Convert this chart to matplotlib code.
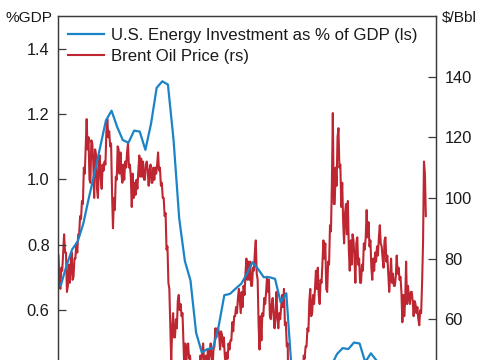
import numpy as np
import matplotlib
matplotlib.use("Agg")
import matplotlib.pyplot as plt

plt.rcParams['font.family'] = ['Liberation Sans', 'DejaVu Sans']

# ---------------- data ----------------
# U.S. energy investment, % of GDP, quarterly 2010Q1 .. 2025Q4
invest_start = 2010
invest_pct = [
    0.675, 0.735, 0.785, 0.81,   # 2010
    0.865, 0.945, 1.02, 1.10,    # 2011
    1.18, 1.21, 1.16, 1.12,      # 2012
    1.112, 1.149, 1.146, 1.09,   # 2013
    1.17, 1.28, 1.30, 1.29,      # 2014
    1.12, 0.88, 0.75, 0.69,      # 2015
    0.53, 0.47, 0.48, 0.483,     # 2016
    0.55, 0.645, 0.649, 0.665,   # 2017
    0.68, 0.71, 0.746, 0.725,    # 2018
    0.70, 0.70, 0.695, 0.623,    # 2019
    0.651, 0.40, 0.36, 0.36,     # 2020
    0.37, 0.39, 0.40, 0.42,      # 2021
    0.43, 0.465, 0.483, 0.48,    # 2022
    0.50, 0.497, 0.44, 0.467,    # 2023
    0.445, 0.43, 0.42, 0.42,     # 2024
    0.43, 0.42, 0.41, 0.41,      # 2025
]

# Brent oil price, $/bbl: monthly high and low, Jan 2010 .. Apr 2026
brent_high = [
    81, 77, 82, 88, 82, 78, 78, 82, 80, 85, 88, 94,            # 2010
    99, 110, 117, 126, 120, 119, 118, 116, 114, 112, 114, 111, # 2011
    112, 122, 126, 122, 118, 100, 107, 117, 116, 115, 111, 112, # 2012
    115, 118, 111, 108, 105, 106, 109, 114, 113, 112, 111, 112, # 2013
    109, 111, 110, 110, 111, 115, 110, 105, 100, 95, 84, 70,   # 2014
    57, 62, 60, 66, 68, 65, 62, 52, 50, 52, 48, 43,            # 2015
    37, 36, 41, 48, 50, 52, 48, 50, 49, 52, 50, 57,            # 2016
    57, 57, 56, 55, 54, 49, 52, 53, 59, 61, 64, 67,            # 2017
    70, 69, 71, 75, 80, 79, 79, 77, 82, 86, 73, 61,            # 2018
    62, 67, 69, 74, 73, 65, 67, 62, 69, 62, 64, 68,            # 2019
    70, 59, 52, 30, 36, 43, 44, 46, 45, 43, 48, 51,            # 2020
    57, 66, 70, 68, 70, 76, 77, 73, 79, 86, 85, 79,            # 2021
    91, 105, 128, 110, 120, 123, 111, 105, 95, 98, 99, 86,     # 2022
    88, 86, 85, 87, 80, 78, 85, 87, 96, 92, 86, 80,            # 2023
    82, 84, 87, 91, 84, 86, 87, 81, 74, 80, 75, 74,            # 2024
    81, 77, 74, 68, 66, 79, 71, 69, 69, 66, 65, 64,            # 2025
    63, 72, 112, 108,                                           # 2026
]
brent_low = [
    72, 70, 76, 82, 69, 71, 72, 73, 74, 80, 82, 88,            # 2010
    93, 98, 108, 116, 106, 105, 112, 100, 103, 100, 106, 103,  # 2011
    109, 111, 120, 117, 102, 90, 96, 106, 108, 108, 105, 106,  # 2012
    110, 110, 107, 97, 100, 101, 103, 107, 107, 106, 106, 109, # 2013
    104, 105, 105, 106, 108, 109, 104, 100, 94, 83, 72, 58,    # 2014
    46, 54, 54, 57, 63, 61, 52, 43, 46, 47, 43, 36,            # 2015
    28, 30, 36, 38, 45, 46, 42, 43, 45, 48, 44, 51,            # 2016
    54, 55, 50, 51, 48, 45, 47, 50, 53, 56, 61, 62,            # 2017
    66, 62, 64, 68, 73, 73, 71, 71, 76, 75, 58, 50,            # 2018
    53, 61, 65, 69, 61, 60, 61, 57, 60, 57, 60, 64,            # 2019
    58, 51, 23, 19, 27, 37, 42, 43, 39, 37, 38, 47,            # 2020
    51, 56, 61, 62, 65, 70, 68, 65, 72, 80, 70, 69,            # 2021
    78, 89, 98, 98, 104, 110, 97, 92, 85, 88, 83, 76,          # 2022
    78, 80, 72, 78, 72, 72, 76, 83, 87, 84, 77, 73,            # 2023
    76, 79, 81, 85, 80, 77, 79, 75, 69, 72, 71, 71,            # 2024
    75, 73, 69, 59, 61, 65, 67, 65, 66, 61, 62, 60,            # 2025
    58, 62, 85, 94,                                             # 2026
]

left_ticks = [0.6, 0.8, 1.0, 1.2, 1.4]
left_labels = ['0.6', '0.8', '1.0', '1.2', '1.4']
right_ticks = [60, 80, 100, 120, 140]

# ---------------- build series ----------------
q_years = invest_start + np.arange(len(invest_pct)) / 4.0 + 0.125

n = len(brent_high)
mids = [(h + l) / 2 for h, l in zip(brent_high, brent_low)]
bx, by = [], []
for i in range(n):
    t = 2010 + i / 12.0
    rising = (i + 1 < n and mids[i + 1] >= mids[i])
    first, second = (brent_low[i], brent_high[i]) if rising else (brent_high[i], brent_low[i])
    bx += [t + 0.25 / 12, t + 0.75 / 12]
    by += [first, second]

BLUE = '#1b84c6'
RED = '#be2631'
SPINE = '#3a3a3a'
TXT = '#1a1a1a'
FS = 11.8

W, H = 485, 360
fig = plt.figure(figsize=(W / 100, H / 100), dpi=100)
left_px, right_px, top_px, bot_px = 58, 436, 16, 440.5
ax = fig.add_axes([left_px / W, (H - bot_px) / H, (right_px - left_px) / W, (bot_px - top_px) / H])
ax2 = ax.twinx()

l1, = ax.plot(q_years, invest_pct, color=BLUE, lw=1.6, zorder=3)
l2, = ax2.plot(bx, by, color=RED, lw=1.5, zorder=2)
ax.set_zorder(ax2.get_zorder() + 1)
ax.patch.set_visible(False)

x0, x1 = 2010.0, 2010.0 + (right_px - left_px) / 22.55
ax.set_xlim(x0, x1)
ax.set_ylim(0.2, 1.5)
ax2.set_ylim(20, 160)

ax.set_yticks(left_ticks)
ax.set_yticklabels(left_labels)
ax2.set_yticks(right_ticks)
ax.set_xticks([])

for a in (ax, ax2):
    for s in a.spines.values():
        s.set_color(SPINE)
        s.set_linewidth(0.9)
    a.tick_params(axis='y', direction='in', length=5.5, width=0.9, color=SPINE,
                  labelsize=FS, labelcolor=TXT, pad=6)

fig.text(53 / W, 1 - 18 / H, '%GDP', ha='right', va='center', fontsize=11.1, color=TXT)
fig.text(442 / W, 1 - 18 / H, '$/Bbl', ha='left', va='center', fontsize=11.1, color=TXT)

ax.legend([l1, l2], ['U.S. Energy Investment as % of GDP (ls)', 'Brent Oil Price (rs)'],
          loc='upper left', bbox_to_anchor=((68 - left_px) / (right_px - left_px), 1 - (28 - top_px) / (bot_px - top_px)),
          frameon=False, fontsize=12.1, handlelength=2.15, handletextpad=0.42,
          borderpad=0, borderaxespad=0, labelspacing=0.36, labelcolor=TXT)

fig.savefig('out.png', dpi=100)
